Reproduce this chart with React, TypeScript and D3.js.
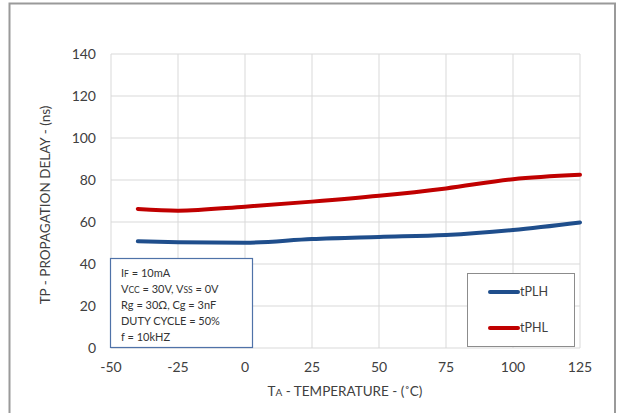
import React, { useEffect, useRef } from 'react';
import * as d3 from 'd3';

// temperatures (°C)
const temps = [-40, -25, 0, 25, 50, 75, 100, 125];
const tPLH = [50.8, 50.4, 50.1, 51.9, 52.9, 53.8, 56.2, 59.8];
const tPHL = [66.2, 65.4, 67.3, 69.7, 72.5, 76.0, 80.4, 82.5];
const xTicks = [-50, -25, 0, 25, 50, 75, 100, 125];
const yTicks = [0, 20, 40, 60, 80, 100, 120, 140];

const seriesNames = ['tPLH', 'tPHL'];
const seriesColors = ['#1f4e8c', '#c00000'];

const font = 'Lato, "Liberation Sans", sans-serif';

const App = () => {
    const svgRef = useRef<SVGSVGElement>(null);
    const width = 620;
    const height = 413;
    const margin = { top: 54, right: 40, bottom: 65, left: 111 };

    useEffect(() => {
        const svg = d3.select(svgRef.current);
        svg.selectAll('*').remove();

        const x = d3.scaleLinear().domain([-50, 125]).range([margin.left, width - margin.right]);
        const y = d3.scaleLinear().domain([0, 140]).range([height - margin.bottom, margin.top]);

        // outer frame
        svg.append('path')
            .attr('d', `M9.5,420 V3.5 H615 V420`)
            .attr('fill', 'none')
            .attr('stroke', '#9a9a9a')
            .attr('stroke-width', 2);

        // grid
        const grid = svg.append('g').attr('stroke', '#d9d9d9').attr('stroke-width', 1);
        grid.selectAll('line.v')
            .data(xTicks)
            .join('line')
            .attr('class', 'v')
            .attr('x1', d => x(d)).attr('x2', d => x(d))
            .attr('y1', y(0)).attr('y2', y(140));
        grid.selectAll('line.h')
            .data(yTicks)
            .join('line')
            .attr('class', 'h')
            .attr('x1', x(-50)).attr('x2', x(125))
            .attr('y1', d => y(d)).attr('y2', d => y(d));

        // y tick labels
        svg.append('g')
            .attr('font-family', font)
            .attr('font-size', 14)
            .attr('fill', '#404040')
            .attr('text-anchor', 'end')
            .selectAll('text')
            .data(yTicks)
            .join('text')
            .attr('x', 96)
            .attr('y', d => y(d))
            .attr('dy', '0.35em')
            .text(d => d);

        // x tick labels
        svg.append('g')
            .attr('font-family', font)
            .attr('font-size', 14)
            .attr('fill', '#404040')
            .attr('text-anchor', 'middle')
            .selectAll('text')
            .data(xTicks)
            .join('text')
            .attr('x', d => x(d))
            .attr('y', 367)
            .attr('dy', '0.35em')
            .text(d => d);

        // axis titles
        const xt = svg.append('text')
            .attr('x', 345).attr('y', 396)
            .attr('text-anchor', 'middle')
            .attr('font-family', font).attr('font-size', 13.5).attr('fill', '#404040');
        xt.append('tspan').text('T');
        xt.append('tspan').attr('font-size', 10).text('A');
        xt.append('tspan').text(' - TEMPERATURE - (˚C)');

        svg.append('text')
            .attr('transform', `translate(50,${(y(0) + y(140)) / 2 + 4}) rotate(-90)`)
            .attr('text-anchor', 'middle')
            .attr('font-family', font).attr('font-size', 13.5).attr('fill', '#404040')
            .text('TP - PROPAGATION DELAY - (ns)');

        // lines
        const line = d3.line<number>()
            .x((_, i) => x(temps[i]))
            .y(d => y(d))
            .curve(d3.curveMonotoneX);

        [tPLH, tPHL].forEach((s, i) => {
            svg.append('path')
                .datum(s)
                .attr('d', line)
                .attr('fill', 'none')
                .attr('stroke', seriesColors[i])
                .attr('stroke-width', 4)
                .attr('stroke-linecap', 'round');
        });

        // conditions box
        svg.append('rect')
            .attr('x', 110.5).attr('y', 258.5).attr('width', 142).attr('height', 89)
            .attr('fill', 'white').attr('stroke', '#4f72a8').attr('stroke-width', 1.2);
        const cond = svg.append('g')
            .attr('font-family', font).attr('font-size', 11).attr('fill', '#333');
        const lines: [string, string?][][] = [
            [['I'], ['F', 's'], [' = 10mA']],
            [['V'], ['CC', 's'], [' = 30V, V'], ['SS', 's'], [' = 0V']],
            [['Rg = 30Ω, Cg = 3nF']],
            [['DUTY CYCLE = 50%']],
            [['f = 10kHZ']],
        ];
        lines.forEach((parts, i) => {
            const t = cond.append('text').attr('x', 121).attr('y', 277 + i * 16);
            parts.forEach(([txt, k]) => {
                t.append('tspan').attr('font-size', k ? 8.5 : 11).text(txt);
            });
        });

        // legend
        svg.append('rect')
            .attr('x', 467.5).attr('y', 273.5).attr('width', 107).attr('height', 73)
            .attr('fill', 'white').attr('stroke', '#8c8c8c').attr('stroke-width', 1);
        seriesNames.forEach((n, i) => {
            const ly = 292 + i * 36;
            svg.append('line')
                .attr('x1', 490).attr('x2', 518).attr('y1', ly).attr('y2', ly)
                .attr('stroke', seriesColors[i]).attr('stroke-width', 4).attr('stroke-linecap', 'round');
            svg.append('text')
                .attr('x', 520).attr('y', ly).attr('dy', '0.35em')
                .attr('font-family', font).attr('font-size', 12.5).attr('fill', '#404040')
                .text(n);
        });
    }, []);

    return (
        <div style={{ position: 'absolute', left: 0, top: 0 }}>
            <svg ref={svgRef} width={width} height={height} style={{ display: 'block', background: 'white' }}></svg>
        </div>
    );
};

export default App;
